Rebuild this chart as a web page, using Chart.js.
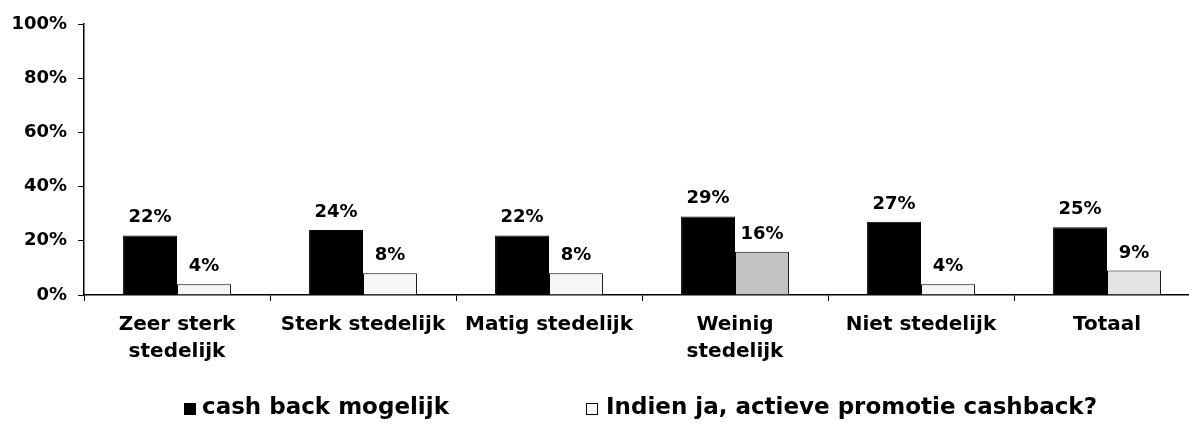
<!DOCTYPE html>
<html lang="nl">
<head>
    <meta charset="UTF-8">
    <title>Cash back per stedelijkheid</title>
    <script src="https://cdn.jsdelivr.net/npm/chart.js@4.4.1/dist/chart.umd.min.js"></script>
    <style>
        html, body { margin: 0; padding: 0; background: #fff; overflow: hidden; }
        /* plot runs a bit past the right edge in the original, so the box is wider than the window */
        .container { position: relative; width: 1200px; height: 426px; }
    </style>
</head>
<body>
    <div class="container"><canvas id="myChart"></canvas></div>
<script>
    // values
    let categories = [['Zeer sterk', 'stedelijk'], 'Sterk stedelijk', 'Matig stedelijk', ['Weinig', 'stedelijk'], 'Niet stedelijk', 'Totaal'];
    let seriesNames = ['cash back mogelijk', 'Indien ja, actieve promotie cashback?'];
    let cashBack = [22, 24, 22, 29, 27, 25];
    let promotie = [4, 8, 8, 16, 4, 9];
    let yTicks = [0, 20, 40, 60, 80, 100];

    // fills of the light bars (scanned dither in the original)
    let promoFill = ['#f6f6f6', '#f7f7f7', '#f6f6f6', '#c2c2c2', '#f6f6f6', '#e4e4e4'];

    const FONT = 'DejaVu Sans';

    // percentage above every bar
    const valueLabels = {
        id: 'valueLabels',
        afterDatasetsDraw(chart) {
            const ctx = chart.ctx;
            ctx.save();
            ctx.font = 'bold 18px "' + FONT + '"';
            ctx.fillStyle = '#000';
            ctx.textAlign = 'center';
            ctx.textBaseline = 'alphabetic';
            chart.data.datasets.forEach((ds, i) => {
                chart.getDatasetMeta(i).data.forEach((bar, j) => {
                    ctx.fillText(ds.data[j] + '%', bar.x, bar.y - 13);
                });
            });
            ctx.restore();
        }
    };

    // legend at the bottom, placed like the original
    const bottomLegend = {
        id: 'bottomLegend',
        afterDraw(chart) {
            const ctx = chart.ctx;
            const spots = [{ box: 184, text: 202 }, { box: 586, text: 606 }];
            ctx.save();
            ctx.font = 'bold 23px "' + FONT + '"';
            ctx.textBaseline = 'alphabetic';
            chart.data.datasets.forEach((ds, i) => {
                const s = spots[i];
                ctx.fillStyle = i === 0 ? '#000' : '#fff';
                ctx.fillRect(s.box, 403, 12, 12);
                ctx.strokeStyle = '#000';
                ctx.lineWidth = 1;
                ctx.strokeRect(s.box + 0.5, 403.5, 11, 11);
                ctx.fillStyle = '#000';
                ctx.fillText(ds.label, s.text, 414);
            });
            ctx.restore();
        }
    };

    let myChart = document.getElementById('myChart').getContext('2d');
    let barChart = new Chart(myChart, {
        type: 'bar',
        data: {
            labels: categories,
            datasets: [{
                label: seriesNames[0],
                data: cashBack,
                backgroundColor: '#000000',
                borderColor: '#000000',
                borderWidth: 1
            },
            {
                label: seriesNames[1],
                data: promotie,
                backgroundColor: ctx => ctx.dataIndex === undefined ? '#ffffff' : promoFill[ctx.dataIndex],
                borderColor: '#000000',
                borderWidth: 1
            }]
        },
        options: {
            responsive: true,
            maintainAspectRatio: false,
            animation: false,
            datasets: {
                bar: { categoryPercentage: 0.58, barPercentage: 1.0 }
            },
            layout: { padding: { top: 24, right: 0, bottom: 0, left: 0 } },
            plugins: {
                legend: { display: false },
                tooltip: { enabled: false }
            },
            scales: {
                x: {
                    afterFit: s => { s.height = 131; },
                    border: { display: true, color: '#000', width: 1.5 },
                    grid: { drawOnChartArea: false, drawTicks: true, tickLength: 6, color: '#000', offset: true },
                    ticks: {
                        color: '#000',
                        autoSkip: false,
                        maxRotation: 0,
                        minRotation: 0,
                        padding: 10,
                        font: { family: FONT, size: 20, weight: 'bold', lineHeight: 1.35 }
                    }
                },
                y: {
                    min: 0,
                    max: 100,
                    afterFit: s => { s.width = 84; },
                    afterBuildTicks: s => { s.ticks = yTicks.map(v => ({ value: v })); },
                    border: { display: true, color: '#000', width: 1.5 },
                    grid: { drawOnChartArea: false, drawTicks: true, tickLength: 6, color: '#000' },
                    ticks: {
                        color: '#000',
                        padding: 11,
                        font: { family: FONT, size: 18, weight: 'bold' },
                        callback: v => v + '%'
                    }
                }
            }
        },
        plugins: [valueLabels, bottomLegend]
    });
</script>
</body>
</html>
